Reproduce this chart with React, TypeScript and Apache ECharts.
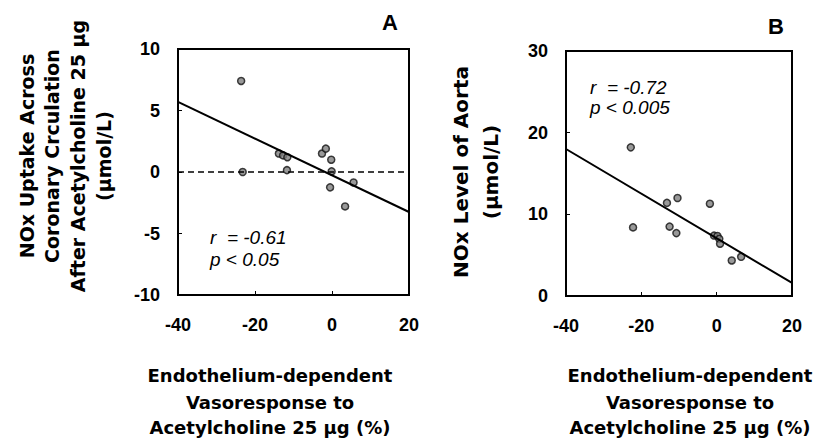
import React, { useEffect, useRef } from "react";
import * as echarts from "echarts";

// Panel A: NOx uptake across coronary circulation vs vasoresponse
const panelAX = [-23.6, -23.2, -13.8, -12.7, -11.6, -11.7, -2.6, -1.6, -0.2, -0.1, -0.5, 5.6, 3.4];
const panelAY = [7.4, 0.0, 1.5, 1.35, 1.2, 0.15, 1.5, 1.9, 1.0, 0.05, -1.25, -0.85, -2.8];
const fitAX = [-40, 20];
const fitAY = [5.7, -3.25];
const zeroLineY = [0, 0];

// Panel B: NOx level of aorta vs vasoresponse
const panelBX = [-22.8, -22.2, -13.2, -10.4, -12.5, -10.7, -1.8, -0.7, 0.2, 0.7, 0.9, 4.0, 6.5];
const panelBY = [18.2, 8.4, 11.4, 12.0, 8.5, 7.7, 11.3, 7.4, 7.35, 7.0, 6.4, 4.35, 4.8];
const fitBX = [-40, 20];
const fitBY = [18.0, 1.6];

const xTicksMinMax = { min: -40, max: 20, interval: 20 };
const yATicks = { min: -10, max: 10, interval: 5 };
const yBTicks = { min: 0, max: 30, interval: 10 };

const xTitleLines = ["Endothelium-dependent", "Vasoresponse to", "Acetylcholine 25 µg (%)"];
const yATitleLines = ["NOx Uptake Across", "Coronary Crculation", "After Acetylcholine 25 µg", "(µmol/L)"];
const yBTitleLines = ["NOx Level of Aorta", "(µmol/L)"];
const statsA = ["r  = -0.61", "p < 0.05"];
const statsB = ["r  = -0.72", "p < 0.005"];

const zip = (xs: number[], ys: number[]) => xs.map((x, i) => [x, ys[i]]);

const TICK_FONT = "Liberation Sans, Arial, sans-serif";
const TITLE_FONT = "DejaVu Sans, sans-serif";

function axisX(gridIndex: number) {
  return {
    type: "value",
    gridIndex,
    ...xTicksMinMax,
    axisLine: { show: true, onZero: false, lineStyle: { color: "#000", width: 2 } },
    axisTick: { show: true, inside: true, length: 4, lineStyle: { color: "#000", width: 1 } },
    axisLabel: { color: "#000", fontSize: 18, fontWeight: "bold", fontFamily: TICK_FONT, margin: 21 },
    splitLine: { show: false },
  };
}

function axisY(gridIndex: number, t: any) {
  return {
    type: "value",
    gridIndex,
    ...t,
    axisLine: { show: true, onZero: false, lineStyle: { color: "#000", width: 2 } },
    axisTick: { show: true, inside: true, length: 4, lineStyle: { color: "#000", width: 1 } },
    axisLabel: { color: "#000", fontSize: 18, fontWeight: "bold", fontFamily: TICK_FONT, margin: 18 },
    splitLine: { show: false },
  };
}

const scatterStyle = { color: "#808080", borderColor: "#111", borderWidth: 1.5 };

export default function App() {
  const ref = useRef<HTMLDivElement>(null);
  useEffect(() => {
    if (!ref.current) return;
    const chart = echarts.init(ref.current, null, { renderer: "svg" });
    const texts: any[] = [];
    // panel letters
    texts.push({ type: "text", x: 390, y: 22, style: { text: "A", font: "bold 22px " + TICK_FONT, fill: "#000", textAlign: "center", textVerticalAlign: "middle" } });
    texts.push({ type: "text", x: 776, y: 26, style: { text: "B", font: "bold 22px " + TICK_FONT, fill: "#000", textAlign: "center", textVerticalAlign: "middle" } });
    // x titles
    const xTitleY = [375, 402, 427];
    xTitleLines.forEach((t, i) => {
      texts.push({ type: "text", x: 270, y: xTitleY[i], style: { text: t, font: "bold 18px " + TITLE_FONT, fill: "#000", textAlign: "center", textVerticalAlign: "middle" } });
      texts.push({ type: "text", x: 690, y: xTitleY[i], style: { text: t, font: "bold 18px " + TITLE_FONT, fill: "#000", textAlign: "center", textVerticalAlign: "middle" } });
    });
    // y titles
    const yAX = [27, 52, 78, 104];
    yATitleLines.forEach((t, i) => {
      texts.push({ type: "text", x: yAX[i], y: 156, rotation: Math.PI / 2, style: { text: t, font: "bold 19px " + TITLE_FONT, fill: "#000", textAlign: "center", textVerticalAlign: "middle" } });
    });
    const yBX = [461, 491];
    yBTitleLines.forEach((t, i) => {
      texts.push({ type: "text", x: yBX[i], y: 172, rotation: Math.PI / 2, style: { text: t, font: "bold 20px " + TITLE_FONT, fill: "#000", textAlign: "center", textVerticalAlign: "middle" } });
    });
    // stats
    const statAY = [237, 259];
    statsA.forEach((t, i) => {
      texts.push({ type: "text", x: 210, y: statAY[i], style: { text: t, font: "italic 19px " + TICK_FONT, fill: "#000", textAlign: "left", textVerticalAlign: "middle" } });
    });
    const statBY = [87, 107];
    statsB.forEach((t, i) => {
      texts.push({ type: "text", x: 590, y: statBY[i], style: { text: t, font: "italic 19px " + TICK_FONT, fill: "#000", textAlign: "left", textVerticalAlign: "middle" } });
    });

    chart.setOption({
      animation: false,
      backgroundColor: "#fff",
      grid: [
        { left: 178, top: 49, width: 231, height: 246, show: true, borderColor: "#000", borderWidth: 2, backgroundColor: "transparent" },
        { left: 566, top: 51, width: 226, height: 245, show: true, borderColor: "#000", borderWidth: 2, backgroundColor: "transparent" },
      ],
      xAxis: [axisX(0), axisX(1)],
      yAxis: [axisY(0, yATicks), axisY(1, yBTicks)],
      series: [
        { type: "line", xAxisIndex: 0, yAxisIndex: 0, data: zip(fitAX, zeroLineY), showSymbol: false, symbol: "none", lineStyle: { color: "#000", width: 1.5, type: [6, 4] }, silent: true },
        { type: "line", xAxisIndex: 0, yAxisIndex: 0, data: zip(fitAX, fitAY), showSymbol: false, symbol: "none", lineStyle: { color: "#000", width: 2 }, silent: true },
        { type: "scatter", xAxisIndex: 0, yAxisIndex: 0, data: zip(panelAX, panelAY), symbolSize: 7, itemStyle: scatterStyle },
        { type: "line", xAxisIndex: 1, yAxisIndex: 1, data: zip(fitBX, fitBY), showSymbol: false, symbol: "none", lineStyle: { color: "#000", width: 2 }, silent: true },
        { type: "scatter", xAxisIndex: 1, yAxisIndex: 1, data: zip(panelBX, panelBY), symbolSize: 7, itemStyle: scatterStyle },
      ],
      graphic: texts,
    });
    return () => chart.dispose();
  }, []);
  return <div ref={ref} style={{ position: "absolute", left: 0, top: 0, width: 814, height: 441 }} />;
}
